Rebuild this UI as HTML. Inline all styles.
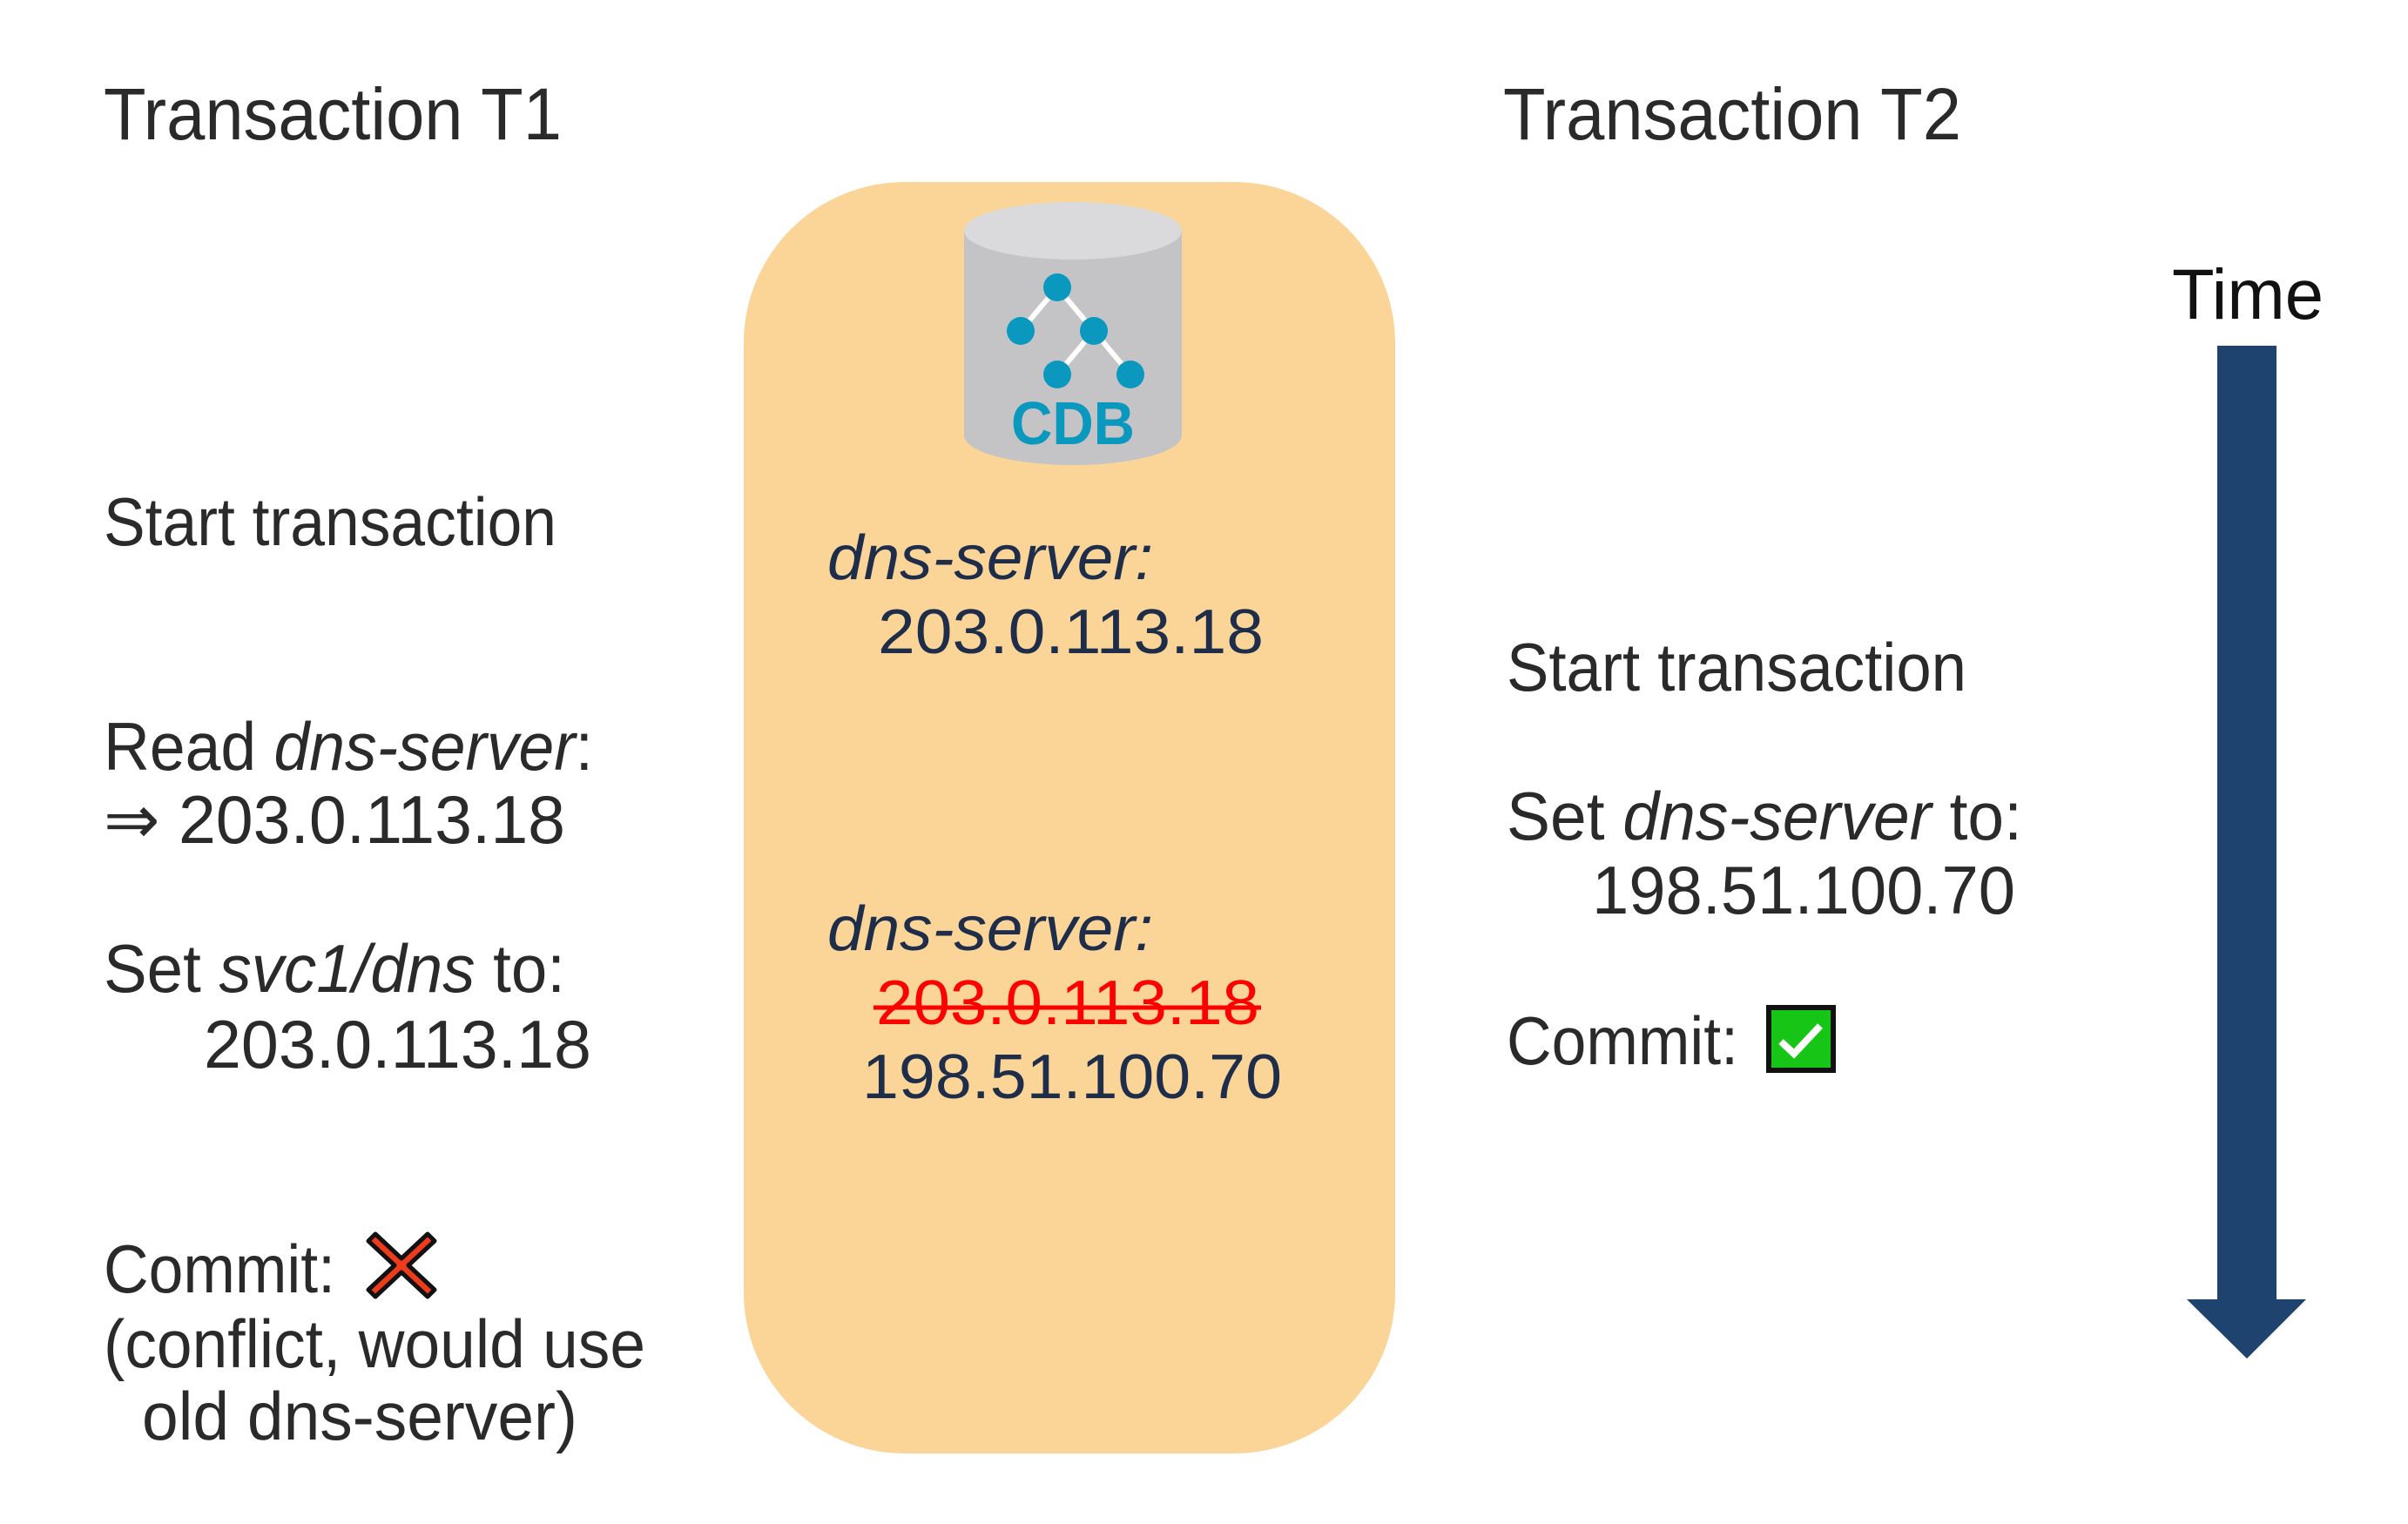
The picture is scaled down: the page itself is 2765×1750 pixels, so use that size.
<!DOCTYPE html>
<html><head><meta charset="utf-8"><style>html,body{margin:0;padding:0;background:#fff}svg{display:block}</style></head>
<body>
<svg width="2765" height="1750" viewBox="0 0 2765 1750" xmlns="http://www.w3.org/2000/svg" font-family="Liberation Sans, sans-serif">
<rect width="2765" height="1750" fill="#fff"/>
<rect x="854" y="209" width="748" height="1460" rx="185" ry="185" fill="#fbd597"/>
<!-- cylinder -->
<path d="M1107 265 L1107 500 A125 34 0 0 0 1357 500 L1357 265 Z" fill="#c4c4c6"/>
<ellipse cx="1232" cy="265" rx="125" ry="33" fill="#dadadc"/>
<g stroke="#fff" stroke-width="6">
<line x1="1214" y1="330" x2="1172" y2="380"/><line x1="1214" y1="330" x2="1256" y2="380"/>
<line x1="1256" y1="380" x2="1214" y2="430"/><line x1="1256" y1="380" x2="1298" y2="430"/>
</g>
<g fill="#0a98bf">
<circle cx="1214" cy="330" r="16"/><circle cx="1172" cy="380" r="16"/><circle cx="1256" cy="380" r="16"/>
<circle cx="1214" cy="430" r="16"/><circle cx="1298" cy="430" r="16"/>
</g>
<text x="1161" y="510" font-size="70" font-weight="bold" fill="#0a98bf" textLength="142" lengthAdjust="spacingAndGlyphs">CDB</text>

<g fill="#2a2a2a" font-size="78">
<text x="119" y="160" font-size="84" textLength="526" lengthAdjust="spacingAndGlyphs">Transaction T1</text>
<text x="119" y="626" textLength="520" lengthAdjust="spacingAndGlyphs">Start transaction</text>
<text x="119" y="884" textLength="562" lengthAdjust="spacingAndGlyphs">Read <tspan font-style="italic">dns-server</tspan>:</text>
<text x="119" y="968" textLength="530" lengthAdjust="spacingAndGlyphs">⇒ 203.0.113.18</text>
<text x="119" y="1139" textLength="530" lengthAdjust="spacingAndGlyphs">Set <tspan font-style="italic">svc1/dns</tspan> to:</text>
<text x="234" y="1226" textLength="445" lengthAdjust="spacingAndGlyphs">203.0.113.18</text>
<text x="119" y="1484" textLength="266" lengthAdjust="spacingAndGlyphs">Commit:</text>
<text x="119" y="1570" textLength="622" lengthAdjust="spacingAndGlyphs">(conflict, would use</text>
<text x="163" y="1653" textLength="500" lengthAdjust="spacingAndGlyphs">old dns-server)</text>

<text x="1726" y="160" font-size="84" textLength="526" lengthAdjust="spacingAndGlyphs">Transaction T2</text>
<text x="2494" y="366" font-size="82" fill="#111" textLength="174" lengthAdjust="spacingAndGlyphs">Time</text>
<text x="1730" y="793" textLength="528" lengthAdjust="spacingAndGlyphs">Start transaction</text>
<text x="1730" y="964" textLength="592" lengthAdjust="spacingAndGlyphs">Set <tspan font-style="italic">dns-server</tspan> to:</text>
<text x="1828" y="1049" textLength="486" lengthAdjust="spacingAndGlyphs">198.51.100.70</text>
<text x="1730" y="1222" textLength="266" lengthAdjust="spacingAndGlyphs">Commit:</text>
</g>

<g fill="#1e2d4a" font-size="72">
<text x="950" y="665" font-style="italic" textLength="374" lengthAdjust="spacingAndGlyphs">dns-server:</text>
<text x="1008" y="750" textLength="443" lengthAdjust="spacingAndGlyphs">203.0.113.18</text>
<text x="950" y="1091" font-style="italic" textLength="374" lengthAdjust="spacingAndGlyphs">dns-server:</text>
<text x="1006" y="1176" fill="#ff0000" textLength="440" lengthAdjust="spacingAndGlyphs">203.0.113.18</text>
<text x="990" y="1261" textLength="482" lengthAdjust="spacingAndGlyphs">198.51.100.70</text>
</g>
<line x1="1003" y1="1157" x2="1448" y2="1157" stroke="#ff0000" stroke-width="5"/>

<!-- red X -->
<g transform="translate(461,1453)">
<path d="M-30 -36 L0 -8 L30 -36 L38 -28 L8 0 L38 28 L30 36 L0 8 L-30 36 L-38 28 L-8 0 L-38 -28 Z" fill="#ee3b1c" stroke="#111" stroke-width="5" stroke-linejoin="round"/>
</g>
<!-- green check -->
<rect x="2031" y="1157" width="74" height="72" fill="#17c517" stroke="#111" stroke-width="6"/>
<path d="M2045 1196 L2060 1210 L2090 1178" fill="none" stroke="#fff" stroke-width="8"/>

<!-- time arrow -->
<path d="M2546 397 L2614 397 L2614 1492 L2648 1492 L2580 1560 L2511 1492 L2546 1492 Z" fill="#1e436e"/>
</svg>
</body></html>
